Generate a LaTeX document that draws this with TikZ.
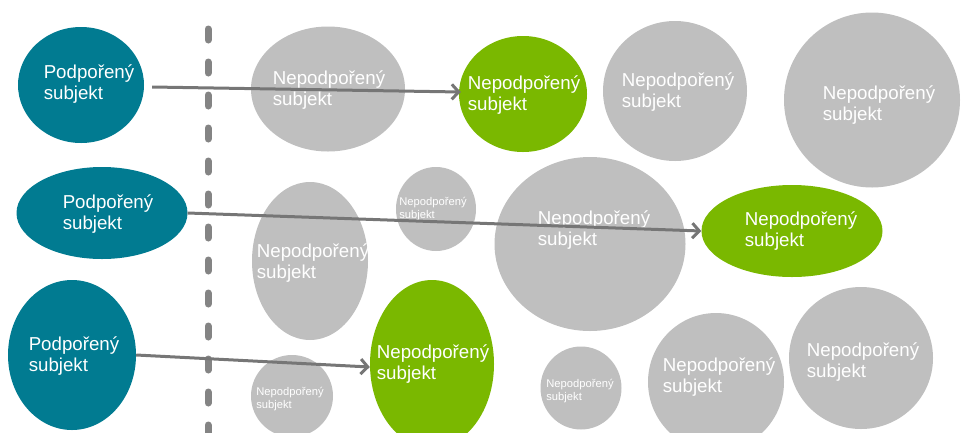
\documentclass[tikz,border=0pt]{standalone}
\usepackage{fontspec}
\setmainfont{Liberation Sans}
\usetikzlibrary{shapes.geometric, arrows.meta}
\definecolor{supblue}{HTML}{017B91}
\definecolor{pickgreen}{HTML}{7AB800}
\definecolor{bubblegrey}{HTML}{BFBFBF}
\definecolor{linkgrey}{HTML}{767676}
\tikzstyle{supported} = [ellipse, inner sep=0pt, fill=supblue]
\tikzstyle{unsupported} = [ellipse, inner sep=0pt, fill=bubblegrey]
\tikzstyle{picked} = [ellipse, inner sep=0pt, fill=pickgreen]
\tikzstyle{big_text} = [text=white, align=left, font=\fontsize{18.7}{21}\selectfont]
\tikzstyle{small_text} = [text=white, align=left, font=\fontsize{11.2}{13.5}\selectfont]
\tikzstyle{arrow} = [line width=3pt, draw=linkgrey, -{Straight Barb[length=7pt, width=15pt]}]
\tikzstyle{divider} = [line width=7pt, draw=linkgrey!90, line cap=round, dash pattern=on 11pt off 22pt]

\begin{document}
\begin{tikzpicture}[x=1pt, y=-1pt]
    \clip (0,0) rectangle (961,432);

    % supported subjects
    \node (sup1) [supported, minimum width=126pt, minimum height=116pt,
        label={[big_text, xshift=8pt, yshift=1pt]center:Podpořený\\subjekt}] at (81,85) {};
    \node (sup2) [supported, minimum width=171pt, minimum height=92pt,
        label={[big_text, xshift=6pt, yshift=-1pt]center:Podpořený\\subjekt}] at (102,213) {};
    \node (sup3) [supported, minimum width=128pt, minimum height=150pt,
        label={[big_text, xshift=2pt, yshift=-1pt]center:Podpořený\\subjekt}] at (72,355) {};

    \draw [divider] (208,29) -- (208,440);

    % unsupported subjects
    \node (uns1) [unsupported, minimum width=154pt, minimum height=125pt,
        label={[big_text, xshift=1pt, yshift=-1pt]center:Nepodpořený\\subjekt}] at (328,89) {};
    \node (uns2) [unsupported, minimum width=144pt, minimum height=140pt,
        label={[big_text, xshift=3pt, yshift=-1pt]center:Nepodpořený\\subjekt}] at (675,91) {};
    \node (uns3) [unsupported, minimum width=176pt, minimum height=175pt,
        label={[big_text, xshift=7pt, yshift=-5pt]center:Nepodpořený\\subjekt}] at (872,100) {};
    \node (uns4) [unsupported, minimum width=116pt, minimum height=158pt,
        label={[big_text, xshift=3pt, yshift=-2pt]center:Nepodpořený\\subjekt}] at (310,261) {};
    \node (uns5) [unsupported, minimum width=80pt, minimum height=84pt,
        label={[small_text, xshift=-3pt]center:Nepodpořený\\subjekt}] at (436,209) {};
    \node (uns6) [unsupported, minimum width=191pt, minimum height=174pt,
        label={[big_text, xshift=4pt, yshift=14pt]center:Nepodpořený\\subjekt}] at (590,244) {};
    \node (uns7) [unsupported, minimum width=82pt, minimum height=82pt,
        label={[small_text, xshift=-2pt, yshift=-3pt]center:Nepodpořený\\subjekt}] at (292,396) {};
    \node (uns8) [unsupported, minimum width=81pt, minimum height=83pt,
        label={[small_text, xshift=-1pt, yshift=-3pt]center:Nepodpořený\\subjekt}] at (581,388) {};
    \node (uns9) [unsupported, minimum width=136pt, minimum height=138pt,
        label={[big_text, xshift=3pt, yshift=5pt]center:Nepodpořený\\subjekt}] at (716,382) {};
    \node (uns10) [unsupported, minimum width=144pt, minimum height=142pt,
        label={[big_text, xshift=2pt, yshift=-4pt]center:Nepodpořený\\subjekt}] at (861,358) {};

    % matched unsupported subjects
    \node (pick1) [picked, minimum width=128pt, minimum height=116pt,
        label={[big_text, xshift=1pt, yshift=-1pt]center:Nepodpořený\\subjekt}] at (523,94) {};
    \node (pick2) [picked, minimum width=181pt, minimum height=92pt,
        label={[big_text, xshift=9pt]center:Nepodpořený\\subjekt}] at (792,231) {};
    \node (pick3) [picked, minimum width=124pt, minimum height=168pt,
        label={[big_text, xshift=1pt]center:Nepodpořený\\subjekt}] at (432,364) {};

\draw [arrow] ([xshift=8pt, yshift=-2pt]sup1.east) -- ([xshift=2pt, yshift=2pt]pick1.west);
\draw [arrow] (sup2.east) -- (pick2.west);
\draw [arrow] (sup3.east) -- ([yshift=-3pt]pick3.west);

\end{tikzpicture}
\end{document}
